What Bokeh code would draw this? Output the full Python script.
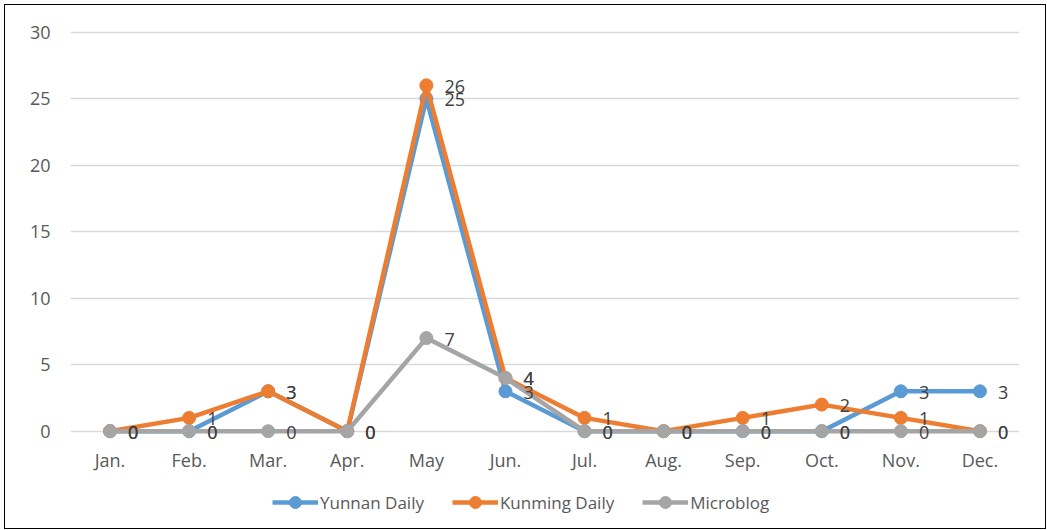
from bokeh.plotting import figure
from bokeh.layouts import column
from bokeh.models import (ColumnDataSource, Legend, LegendItem, SingleIntervalTicker,
                          FactorRange, Range1d, InlineStyleSheet)
from bokeh.core.properties import value
from bokeh.embed import file_html
from bokeh.resources import INLINE

months = ["Jan.", "Feb.", "Mar.", "Apr.", "May", "Jun.", "Jul.", "Aug.", "Sep.", "Oct.", "Nov.", "Dec."]
yunnan_daily = [0, 0, 3, 0, 25, 3, 0, 0, 0, 0, 3, 3]
kunming_daily = [0, 1, 3, 0, 26, 4, 1, 0, 1, 2, 1, 0]
microblog = [0, 0, 0, 0, 7, 4, 0, 0, 0, 0, 0, 0]
series_names = ["Yunnan Daily", "Kunming Daily", "Microblog"]
series_colors = ["#5B9BD5", "#ED7D31", "#A5A5A5"]

FONT = "Open Sans"
FS = "18px"

p = figure(width=1047, height=478, output_backend="svg", toolbar_location=None,
           x_range=FactorRange(factors=months, range_padding=0),
           y_range=(-1.0, 30.5),
           min_border_left=70, min_border_right=28, min_border_top=25, min_border_bottom=34)
p.outline_line_color = None
p.background_fill_color = "white"
p.border_fill_color = "white"

p.xgrid.grid_line_color = None
p.ygrid.grid_line_color = "#D9D9D9"
p.ygrid.grid_line_width = 1.3

p.yaxis.ticker = SingleIntervalTicker(interval=5)
for ax in (p.xaxis[0], p.yaxis[0]):
    ax.axis_line_color = None
    ax.major_tick_line_color = None
    ax.minor_tick_line_color = None
    ax.major_tick_out = 0
    ax.major_tick_in = 0
    ax.minor_tick_out = 0
    ax.minor_tick_in = 0
    ax.major_label_text_font = FONT
    ax.major_label_text_font_size = FS
    ax.major_label_text_color = "#595959"
p.yaxis.major_label_standoff = 20
p.xaxis.major_label_standoff = 3

all_series = [yunnan_daily, kunming_daily, microblog]
for name, vals, col in zip(series_names, all_series, series_colors):
    src = ColumnDataSource(dict(x=months, y=vals))
    p.line("x", "y", source=src, line_color=col, line_width=4.5)
    p.scatter("x", "y", source=src, size=13, fill_color=col, line_color=col)

for vals in all_series:
    src = ColumnDataSource(dict(x=months, y=vals, t=[str(v) for v in vals]))
    p.text("x", "y", text="t", source=src, x_offset=18, y_offset=1, text_align="left",
           text_baseline="middle", text_font=value(FONT), text_font_size=FS,
           text_color="#404040")

# legend strip below the chart
lg = figure(width=1047, height=52, output_backend="svg", toolbar_location=None,
            x_range=Range1d(0, 1), y_range=Range1d(0, 1),
            min_border_left=0, min_border_right=0, min_border_top=0, min_border_bottom=0)
lg.axis.visible = False
lg.grid.visible = False
lg.outline_line_color = None
lg.border_fill_color = "white"
items = []
for name, col in zip(series_names, series_colors):
    ln = lg.line(x=[-5, -4], y=[-5, -5], line_color=col, line_width=4.5)
    sc = lg.scatter(x=[-5], y=[-5], size=13, fill_color=col, line_color=col)
    items.append(LegendItem(label=name, renderers=[ln, sc]))
legend = Legend(items=items, orientation="horizontal", location=(202, 13),
                label_text_font=FONT, label_text_font_size="17px",
                label_text_color="#595959", glyph_width=46, glyph_height=30,
                spacing=28, label_standoff=2, border_line_color=None,
                background_fill_alpha=0, margin=0, padding=0)
lg.add_layout(legend)

layout = column(p, lg, spacing=0)
border_css = InlineStyleSheet(css="""
:host::after {
  content: "";
  position: absolute;
  left: 4px; top: 4px; right: 1px; bottom: 1px;
  border: 1px solid #000;
  pointer-events: none;
  z-index: 1000;
}
""")
layout.stylesheets = [border_css]

open("out.html", "w").write(file_html(layout, INLINE))
